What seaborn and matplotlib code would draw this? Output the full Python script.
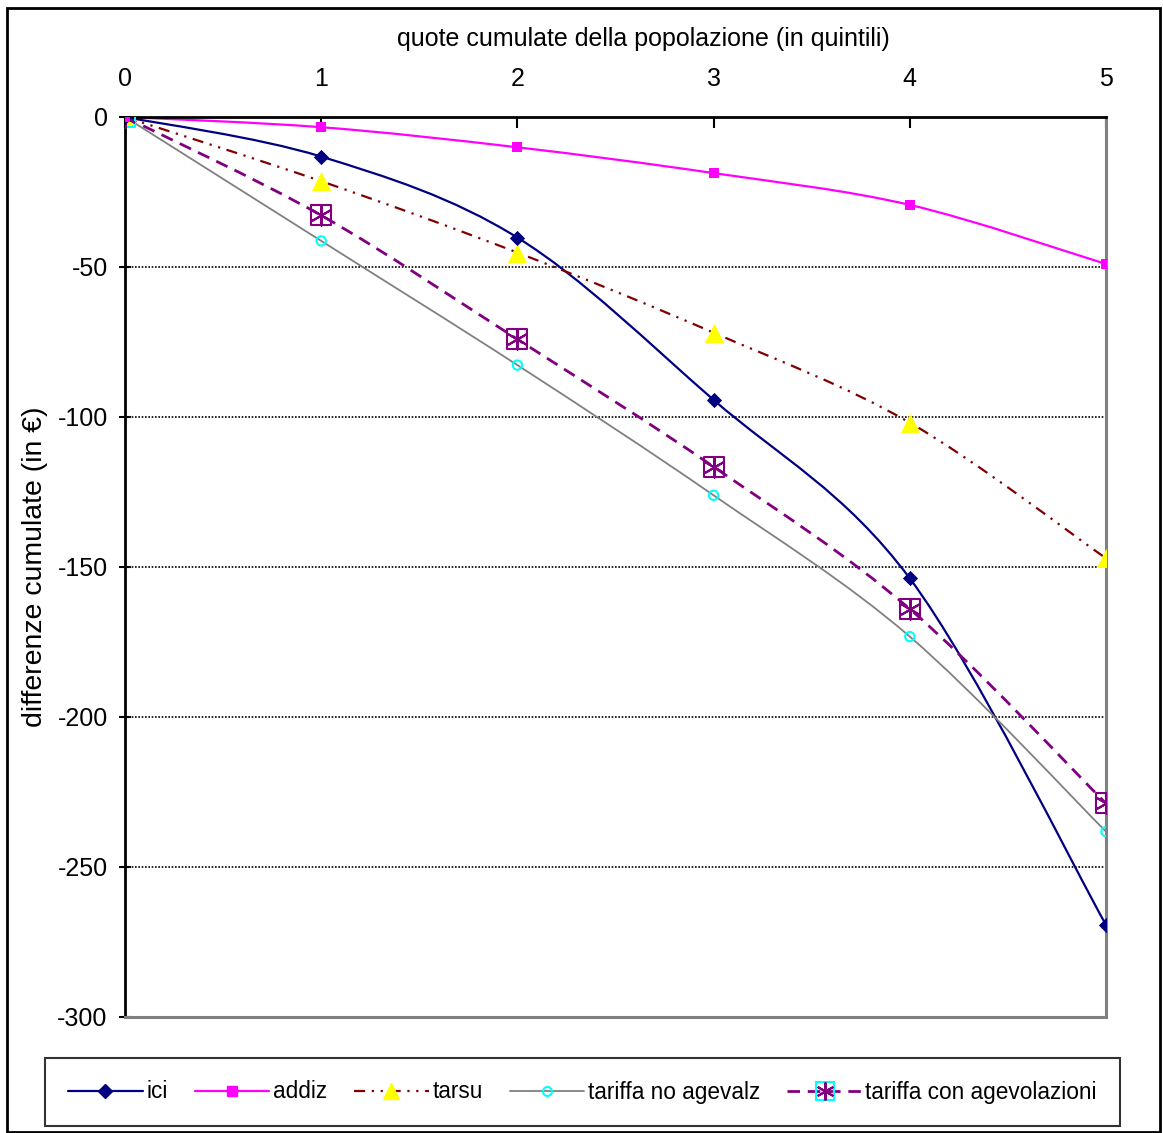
import matplotlib
matplotlib.use("Agg")
import matplotlib.pyplot as plt
import numpy as np
import seaborn as sns
from matplotlib.lines import Line2D
from matplotlib.patches import PathPatch, Rectangle
from matplotlib.path import Path
from matplotlib.legend_handler import HandlerTuple

# --- data ---------------------------------------------------------------- #
quintili = [0, 1, 2, 3, 4, 5]
ici = [0, -13.2, -40.2, -94.3, -153.8, -269.3]
addiz = [0, -3.4, -10.1, -18.7, -29.3, -49.0]
tarsu = [0, -21.4, -45.2, -71.9, -101.9, -147.1]
tariffa_no_agev = [0, -41.3, -82.7, -126.1, -173.2, -238.2]
tariffa_con_agev = [0, -32.8, -74.1, -116.6, -164.0, -228.8]

x_label = "quote cumulate della popolazione (in quintili)"
y_label = "differenze cumulate (in €)"
y_ticks = [0, -50, -100, -150, -200, -250, -300]

NAVY, MAGENTA, DARKRED, GRAY, CYAN, PURPLE, YELLOW = (
    "#000080", "#FF00FF", "#800000", "#808080", "#00FFFF", "#800080", "#FFFF00")

sns.set_theme(style="white")
plt.rcParams["font.family"] = ["Liberation Sans", "DejaVu Sans"]
plt.rcParams["axes.unicode_minus"] = False
plt.rcParams["text.color"] = "black"
plt.rcParams["axes.labelcolor"] = "black"
plt.rcParams["xtick.color"] = "black"
plt.rcParams["ytick.color"] = "black"
FS = 18


def smooth_path(xs, ys):
    """Excel-style smoothed line: Catmull-Rom converted to cubic Bezier."""
    pts = np.column_stack([xs, ys]).astype(float)
    ext = np.vstack([pts[0], pts, pts[-1]])
    verts, codes = [tuple(pts[0])], [Path.MOVETO]
    for i in range(len(pts) - 1):
        p0, p1, p2, p3 = ext[i], ext[i + 1], ext[i + 2], ext[i + 3]
        c1 = p1 + (p2 - p0) / 6.0
        c2 = p2 - (p3 - p1) / 6.0
        verts += [tuple(c1), tuple(c2), tuple(p2)]
        codes += [Path.CURVE4] * 3
    return Path(verts, codes)


fig = plt.figure(figsize=(11.63, 11.33), dpi=100)
ax = fig.add_axes([125 / 1163, 1 - 1017 / 1133, 981 / 1163, 900 / 1133])

series = [
    (ici, NAVY, 1.6, "-"),
    (addiz, MAGENTA, 1.6, "-"),
    (tarsu, DARKRED, 1.6, (0, (5, 3, 1, 3, 1, 3))),
    (tariffa_no_agev, GRAY, 1.3, "-"),
    (tariffa_con_agev, PURPLE, 2.0, (0, (4.5, 2.8))),
]
for ys, col, lw, ls in series:
    ax.add_patch(PathPatch(smooth_path(quintili, ys), fill=False,
                           edgecolor=col, lw=lw, linestyle=ls, zorder=3,
                           capstyle="butt"))

# markers
sns.scatterplot(x=quintili, y=tarsu, marker="^", s=190, color=YELLOW,
                edgecolor=YELLOW, linewidth=0, ax=ax, zorder=5)
sns.scatterplot(x=quintili, y=tariffa_no_agev, marker="o", s=45,
                facecolor="none", edgecolor=CYAN, linewidth=1.5, ax=ax, zorder=5)
sns.scatterplot(x=quintili, y=tariffa_con_agev, marker="s", s=210,
                facecolor="none",
                edgecolor=[CYAN] + [PURPLE] * (len(quintili) - 1),
                linewidth=1.5, ax=ax, zorder=6)
sns.scatterplot(x=quintili, y=tariffa_con_agev, marker=(6, 2, 0), s=210,
                color=PURPLE, linewidth=1.5, ax=ax, zorder=6)
sns.scatterplot(x=quintili, y=ici, marker="D", s=60, color=NAVY,
                edgecolor=NAVY, linewidth=0, ax=ax, zorder=7)
sns.scatterplot(x=quintili, y=addiz, marker="s", s=60, color=MAGENTA,
                edgecolor=MAGENTA, linewidth=0, ax=ax, zorder=7)

ax.set_xlim(0, 5)
ax.set_ylim(-300, 0)
ax.set_xticks(quintili)
ax.set_yticks(y_ticks)
ax.set_yticklabels([str(t) for t in y_ticks])
ax.xaxis.tick_top()
ax.xaxis.set_label_position("top")
ax.tick_params(axis="x", direction="in", length=8, width=1.5, color="black",
               pad=19, labelsize=FS, top=True, bottom=False)
ax.tick_params(axis="y", direction="inout", length=9, width=1.5, color="black",
               pad=8, labelsize=FS, left=True)
ax.set_xlabel(x_label, fontsize=FS)
ax.set_ylabel(y_label, fontsize=20.5)
ax.xaxis.set_label_coords(0.528, 1.079)
ax.yaxis.set_label_coords(-0.078, 0.5)

ax.grid(axis="y", color="black", linestyle=(0, (1, 1)), linewidth=1.2)
ax.grid(axis="x", visible=False)
for side in ["top", "left"]:
    ax.spines[side].set_color("black")
    ax.spines[side].set_linewidth(2)
for side in ["right", "bottom"]:
    ax.spines[side].set_color(GRAY)
    ax.spines[side].set_linewidth(2.2)
for sp in ax.spines.values():
    sp.set_zorder(4)

# legend
h_ici = Line2D([], [], color=NAVY, lw=1.6, marker="D", ms=7, mec=NAVY)
h_add = Line2D([], [], color=MAGENTA, lw=1.6, marker="s", ms=7, mec=MAGENTA)
h_tar = Line2D([], [], color=DARKRED, lw=1.6, ls=(0, (5, 3, 1, 3, 1, 3)),
               marker="^", ms=12, mfc=YELLOW, mec=YELLOW)
h_no = Line2D([], [], color=GRAY, lw=1.3, marker="o", ms=6.5, mfc="none",
              mec=CYAN, mew=1.5)
h_con = (Line2D([], [], color=PURPLE, lw=2.0, ls=(0, (4.5, 2.8)), marker="s",
                ms=13, mfc="none", mec=CYAN, mew=1.5),
         Line2D([], [], ls="none", marker=(6, 2, 0), ms=13, mec=PURPLE,
                mew=1.5))
leg = fig.legend([h_ici, h_add, h_tar, h_no, h_con],
                 ["ici", "addiz", "tarsu", "tariffa no agevalz",
                  "tariffa con agevolazioni"],
                 handler_map={tuple: HandlerTuple(ndivide=1)},
                 loc="center", bbox_to_anchor=(582.5 / 1163, 1 - 1092 / 1133),
                 ncol=5, fontsize=16.3, frameon=True, fancybox=False,
                 handlelength=3.3, handletextpad=0.15,
                 columnspacing=1.2, borderpad=1.0, edgecolor="black")
leg.get_frame().set_linewidth(1.5)

fig.patches.append(Rectangle((7 / 1163, 1 / 1133), 1153 / 1163, 1124 / 1133,
                             transform=fig.transFigure, fill=False,
                             edgecolor="black", lw=2))

fig.savefig("out.png", dpi=100)
